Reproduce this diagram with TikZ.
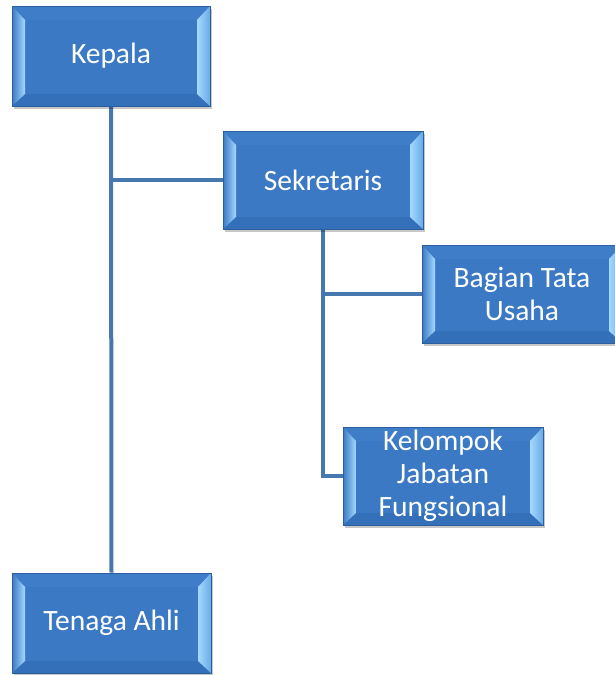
\documentclass[tikz,border=0pt]{standalone}
\usepackage{fontspec}
\setmainfont{Carlito}
\usetikzlibrary{calc,shadows,backgrounds}
\definecolor{boxblue}{HTML}{3B79C5}
\definecolor{boxedge}{HTML}{2B5E9C}
\definecolor{topbev}{HTML}{3F7DC9}
\definecolor{botbev}{HTML}{3470B9}
\definecolor{lightbev}{HTML}{A4D9FF}
\definecolor{midbev}{HTML}{6AAAE6}
\definecolor{linkblue}{HTML}{4677AE}
\tikzset{
  bevbox/.style={rectangle, minimum width=200pt, minimum height=98pt, inner sep=0pt,
    fill=boxblue, draw=boxedge, line width=0.8pt, text=white,
    font=\fontsize{29.5}{33}\selectfont, align=center,
    drop shadow={shadow xshift=2pt, shadow yshift=-3pt, fill=black, opacity=0.22},
    path picture={
      \coordinate (pNW) at (path picture bounding box.north west);
      \coordinate (pNE) at (path picture bounding box.north east);
      \coordinate (pSW) at (path picture bounding box.south west);
      \coordinate (pSE) at (path picture bounding box.south east);
      \fill[topbev] (pNW) -- (pNE) -- ($(pNE)+(-13pt,-14pt)$) -- ($(pNW)+(13pt,-14pt)$) -- cycle;
      \fill[botbev] (pSW) -- (pSE) -- ($(pSE)+(-13pt,12pt)$) -- ($(pSW)+(13pt,12pt)$) -- cycle;
      \shade[left color=boxblue, right color=lightbev] (pNW) -- ($(pNW)+(13pt,-14pt)$) -- ($(pSW)+(13pt,12pt)$) -- (pSW) -- cycle;
      \shade[left color=lightbev, right color=midbev] (pNE) -- ($(pNE)+(-13pt,-14pt)$) -- ($(pSE)+(-13pt,12pt)$) -- (pSE) -- cycle;
    }},
  link/.style={draw=linkblue, line width=4pt}
}
\begin{document}
\begin{tikzpicture}[x=1pt, y=-1pt]
\useasboundingbox (0,0) rectangle (614,675);
\node[bevbox, minimum width=198pt, minimum height=100pt] (kepala) at (111,56) {Kepala};
\node[bevbox] (sekretaris) at (323,180) {Sekretaris};
\node[bevbox] (bagian) at (522,294) {Bagian Tata\\Usaha};
\node[bevbox] (kelompok) at (443,476) {Kelompok\\Jabatan\\Fungsional};
\node[bevbox, minimum width=199pt, minimum height=100pt] (tenaga) at (111.5,623) {Tenaga Ahli};
\begin{scope}[on background layer]
\draw[link] (kepala.south) -- (tenaga.north);
\draw[link] (kepala.south |- sekretaris.west) -- (sekretaris.west);
\draw[link] (sekretaris.south) |- (kelompok.west);
\draw[link] (sekretaris.south |- bagian.west) -- (bagian.west);
\end{scope}
\end{tikzpicture}
\end{document}
